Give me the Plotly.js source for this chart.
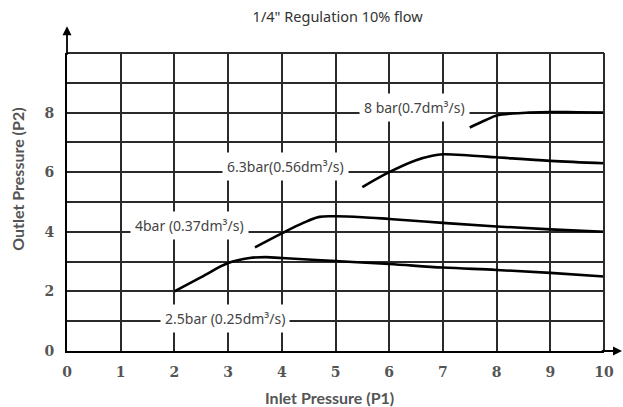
<!DOCTYPE html>
<html><head><meta charset="utf-8">
<script src="https://cdn.plot.ly/plotly-3.0.1.min.js"></script>
<style>html,body{margin:0;padding:0;background:#fff}#chart{width:623px;height:407px}</style>
</head><body><div id="chart"></div>
<script>
// Curve data (Inlet P1 -> Outlet P2)
const x25 = [2, 2.5, 3, 3.4, 3.7, 4, 5, 6, 7, 8, 9, 10];
const y25 = [2, 2.48, 2.95, 3.12, 3.15, 3.12, 3.02, 2.92, 2.8, 2.72, 2.62, 2.5];
const x4 = [3.5, 4, 4.4, 4.7, 5, 5.5, 6, 7, 8, 9, 10];
const y4 = [3.48, 3.95, 4.3, 4.5, 4.52, 4.49, 4.43, 4.3, 4.18, 4.08, 4.0];
const x63 = [5.5, 6, 6.5, 6.8, 7, 7.5, 8, 9, 10];
const y63 = [5.5, 6.0, 6.4, 6.55, 6.6, 6.56, 6.5, 6.38, 6.3];
const x8 = [7.5, 7.8, 8, 8.3, 8.6, 9, 9.5, 10];
const y8 = [7.5, 7.75, 7.9, 7.97, 8.0, 8.02, 8.01, 8.0];

const labels = ["2.5bar (0.25dm³/s)", "4bar (0.37dm³/s)", "6.3bar(0.56dm³/s)", "8 bar(0.7dm³/s)"];
const labelX = [2.94, 2.29, 4.06, 6.48];
const labelY = [1.1, 4.2, 6.18, 8.17];

const xTicks = [0,1,2,3,4,5,6,7,8,9,10];
const yTicks = [0,2,4,6,8];

const series = [[x25,y25],[x4,y4],[x63,y63],[x8,y8]];
const traces = series.map(s => ({
  x: s[0], y: s[1], type: 'scatter', mode: 'lines',
  line: {color: '#000', width: 2.6, shape: 'spline', smoothing: 1},
  hoverinfo: 'skip', showlegend: false
}));

const tickFont = {family: 'DejaVu Serif', size: 14, color: '#555', weight: 'bold'};
const gridCol = '#2a2a2a';
const gw = 1.6;

const annotations = labels.map((t, i) => ({
  x: labelX[i], y: labelY[i], xref: 'x', yref: 'y', text: t, showarrow: false,
  bgcolor: '#fff', borderpad: 4,
  font: {family: 'Noto Sans', size: 14, color: '#444'}
}));
// axis arrows
annotations.push({xref: 'paper', yref: 'paper', x: 1.034, y: 0, ax: -22, ay: 0, axref: 'pixel', ayref: 'pixel',
  text: '', showarrow: true, arrowhead: 2, arrowsize: 1, arrowwidth: 1.8, arrowcolor: '#000'});
annotations.push({xref: 'paper', yref: 'paper', x: 0, y: 1.09, ax: 0, ay: 30, axref: 'pixel', ayref: 'pixel',
  text: '', showarrow: true, arrowhead: 2, arrowsize: 1, arrowwidth: 1.8, arrowcolor: '#000'});
// axis titles
annotations.push({xref: 'paper', yref: 'paper', x: 0.488, y: -0.155, yanchor: 'middle', showarrow: false,
  text: 'Inlet Pressure (P1)', font: {family: 'Lato', size: 16, color: '#555', weight: 'bold'}});
annotations.push({xref: 'paper', yref: 'paper', x: -0.091, y: 0.575, xanchor: 'center', yanchor: 'middle', showarrow: false,
  textangle: -90, text: 'Outlet Pressure (P2)', font: {family: 'Lato', size: 16, color: '#555', weight: 'bold'}});

const layout = {
  width: 623, height: 407,
  margin: {l: 67, r: 19, t: 53, b: 56},
  paper_bgcolor: '#fff', plot_bgcolor: '#fff',
  title: {text: '1/4" Regulation 10% flow', x: 0.542, xanchor: 'center', y: 0.958, yanchor: 'middle',
    font: {family: 'Noto Sans', size: 14.5, color: '#333'}},
  xaxis: {range: [0, 10], tickvals: xTicks, ticktext: xTicks.map(String), showgrid: true, gridcolor: gridCol, gridwidth: gw,
    zeroline: false, showline: true, linecolor: '#000', linewidth: 2, mirror: false,
    ticks: 'outside', ticklen: 7, tickcolor: 'rgba(0,0,0,0)', tickfont: tickFont, fixedrange: true},
  yaxis: {range: [0, 10], tickvals: yTicks, ticktext: yTicks.map(String), showgrid: true, gridcolor: gridCol, gridwidth: gw,
    minor: {dtick: 1, tick0: 0, showgrid: true, gridcolor: gridCol, gridwidth: gw, ticks: ''},
    zeroline: false, showline: true, linecolor: '#000', linewidth: 2,
    ticks: 'outside', ticklen: 8, tickcolor: 'rgba(0,0,0,0)', tickfont: tickFont, fixedrange: true},
  shapes: [
    {type: 'line', xref: 'paper', yref: 'paper', x0: 0, x1: 1, y0: 1, y1: 1, line: {color: gridCol, width: 2}},
    {type: 'line', xref: 'paper', yref: 'paper', x0: 1, x1: 1, y0: 0, y1: 1, line: {color: gridCol, width: 2}}
  ],
  annotations: annotations
};

Plotly.newPlot('chart', traces, layout, {displayModeBar: false});
</script>
</body></html>
